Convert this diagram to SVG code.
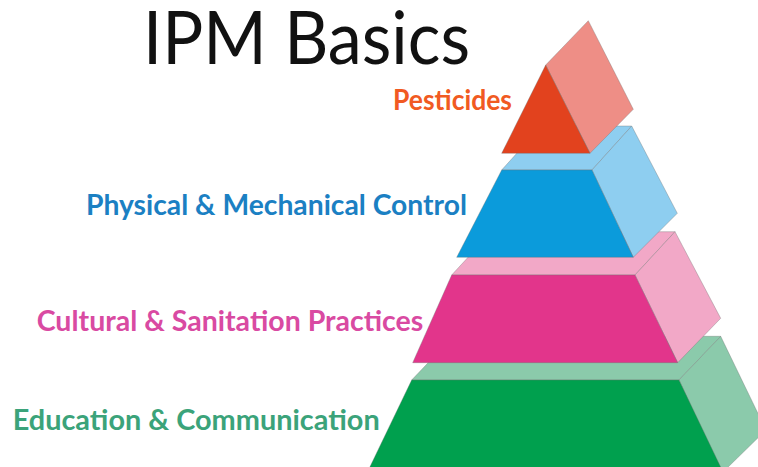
<svg xmlns="http://www.w3.org/2000/svg" width="758" height="467" viewBox="0 0 758 467">
  <style>
    .face { stroke: #6f6f6f; stroke-opacity: 0.35; stroke-width: 1; stroke-linejoin: round; }
    .lbl { font-family: Lato, "Open Sans", "Liberation Sans", sans-serif; font-weight: bold; font-size: 28px; }
    .title { font-family: Lato, "Open Sans", "Liberation Sans", sans-serif; font-size: 74px; fill: #111111; }
  </style>
  <rect width="758" height="467" fill="#ffffff"/>
  <text id="title" class="title" x="143" y="63.5" textLength="327" lengthAdjust="spacingAndGlyphs">IPM Basics</text>

  <g id="tier-education">
    <polygon class="face" points="411.7,380 453.4,336.3 720.7,336.3 679,380" fill="#8BCAAB"/>
    <polygon class="face" points="679,380 720.7,336.3 766,430 721,474" fill="#8BCAAB"/>
    <polygon class="face" points="411.7,380 679,380 724,474 366.5,474" fill="#00A04E"/>
    <text class="lbl" x="12.7" y="430" fill="#3BA37A" textLength="367" lengthAdjust="spacingAndGlyphs">Education &amp; Communication</text>
  </g>

  <g id="tier-cultural">
    <polygon class="face" points="451.7,275 491.7,231.7 675,231.7 635,275" fill="#F2A8C7"/>
    <polygon class="face" points="635,275 675,231.7 720.7,318.3 677.7,362.7" fill="#F2A8C7"/>
    <polygon class="face" points="451.7,275 635,275 677.7,362.7 412.7,362.7" fill="#E2358B"/>
    <text class="lbl" x="36.7" y="330.7" fill="#D94AA2" textLength="386.7" lengthAdjust="spacingAndGlyphs">Cultural &amp; Sanitation Practices</text>
  </g>

  <g id="tier-physical">
    <polygon class="face" points="501.7,170 541.5,126 631.7,126 592,170" fill="#8ECEF0"/>
    <polygon class="face" points="592,170 631.7,126 677.3,213.3 633.3,257.3" fill="#8ECEF0"/>
    <polygon class="face" points="501.7,170 592,170 633.3,257.3 456.7,257.3" fill="#0B9BDB"/>
    <text class="lbl" x="86" y="215" fill="#1B80C3" textLength="381" lengthAdjust="spacingAndGlyphs">Physical &amp; Mechanical Control</text>
  </g>

  <g id="tier-pesticides">
    <polygon class="face" points="545.7,65 588.3,20.7 633.3,109.3 590,153.3" fill="#EE8E86"/>
    <polygon class="face" points="545.7,65 590,153.3 501.7,153.3" fill="#E2421E"/>
    <text class="lbl" x="393" y="110" fill="#F15A22" textLength="119" lengthAdjust="spacingAndGlyphs">Pesticides</text>
  </g>

  <g id="connectors"/>
</svg>
